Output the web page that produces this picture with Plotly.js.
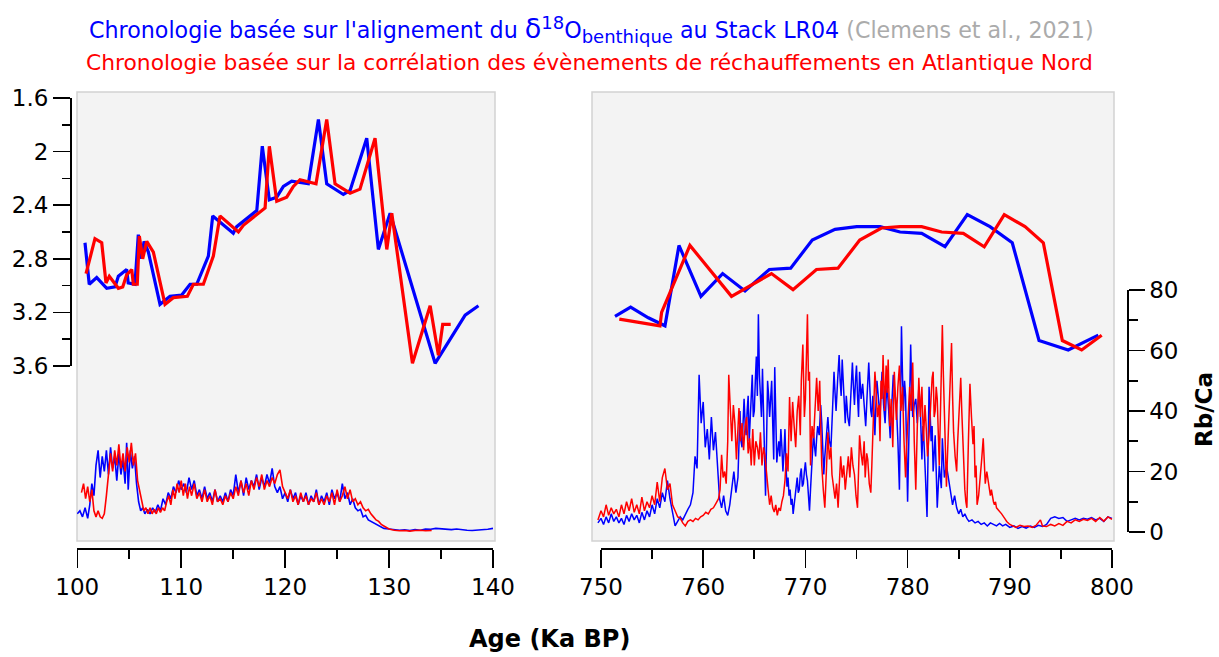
<!DOCTYPE html>
<html>
<head>
<meta charset="utf-8">
<script src="https://cdn.plot.ly/plotly-3.0.1.min.js"></script>
<style>html,body{margin:0;padding:0;background:#fff;}#chart{width:1219px;height:657px;}</style>
</head>
<body>
<div id="chart"></div>
<script>
// ---------- DATA ----------
// d18O benthique, MIS 5e window (Ka BP)
const d18O_blue_left_age = [100.74,101.15,101.87,102.83,103.63,103.95,104.75,104.9,105.55,105.87,106.2,106.42,106.84,107.96,108.92,110.05,110.85,111.49,112.61,113.03,115.01,115.34,117.27,117.8,118.48,119.19,119.83,120.63,122.23,123.2,124.0,125.6,126.25,127.85,128.97,130.1,134.43,137.32,138.6];
const d18O_blue_left_val = [2.68,2.99,2.94,3.02,3.01,2.93,2.88,2.98,2.99,2.62,2.80,2.67,2.75,3.14,3.08,3.07,2.99,2.99,2.78,2.48,2.61,2.56,2.44,1.96,2.36,2.34,2.26,2.22,2.24,1.76,2.24,2.32,2.29,1.90,2.73,2.46,3.58,3.22,3.15];
const d18O_red_left_age = [100.84,101.7,102.35,102.76,103.08,103.95,104.37,104.75,105.24,105.39,105.77,105.97,106.29,106.68,107.32,108.44,109.24,110.59,111.17,112.13,113.09,113.73,115.5,115.98,118.07,118.48,119.19,120.15,120.79,121.43,122.97,124.0,124.8,126.25,127.2,128.65,129.78,130.26,132.25,133.95,134.75,135.16,135.93];
const d18O_red_left_val = [2.91,2.65,2.68,2.98,2.93,3.02,3.01,2.92,2.88,2.99,2.99,2.63,2.80,2.67,2.75,3.14,3.09,3.08,2.99,2.99,2.78,2.48,2.60,2.55,2.42,1.96,2.37,2.34,2.26,2.21,2.24,1.76,2.24,2.31,2.28,1.90,2.73,2.46,3.58,3.15,3.52,3.29,3.29];

// d18O benthique, MIS 19 window
const d18O_blue_right_age = [751.37,752.9,754.63,755.77,756.26,757.63,759.78,761.9,764.09,766.47,768.56,770.67,772.9,775.02,777.3,779.26,781.38,783.66,785.84,788.06,790.24,792.86,795.72,798.66];
const d18O_blue_right_val = [3.23,3.16,3.24,3.28,3.30,2.70,3.08,2.91,3.04,2.88,2.87,2.66,2.58,2.56,2.56,2.60,2.61,2.71,2.47,2.56,2.68,3.41,3.48,3.37];
const d18O_red_right_age = [751.79,755.77,755.93,758.7,762.77,766.68,768.79,771.08,773.19,775.32,777.44,779.26,781.38,783.33,785.45,787.5,789.46,791.49,793.28,795.14,797.03,798.99];
const d18O_red_right_val = [3.25,3.30,3.20,2.70,3.08,2.91,3.03,2.88,2.87,2.66,2.57,2.56,2.56,2.60,2.61,2.71,2.47,2.56,2.68,3.41,3.48,3.37];

// Rb/Ca, MIS 5e window
const rbca_blue_left_age = [100.0,100.25,100.5,100.75,101.0,101.2,101.4,101.6,101.8,102.0,102.2,102.4,102.6,102.8,103.0,103.2,103.4,103.6,103.8,104.0,104.2,104.4,104.6,104.75,104.9,105.1,105.3,105.5,105.7,105.9,106.1,106.3,106.5,106.75,107.0,107.25,107.5,107.75,108.0,108.25,108.5,108.75,109.0,109.25,109.5,109.75,110.0,110.25,110.5,110.75,111.0,111.25,111.5,111.75,112.0,112.25,112.5,112.75,113.0,113.25,113.5,113.75,114.0,114.25,114.5,114.75,115.0,115.25,115.5,115.75,116.0,116.25,116.5,116.75,117.0,117.25,117.5,117.75,118.0,118.25,118.5,118.75,119.0,119.25,119.5,119.75,120.0,120.25,120.5,120.75,121.0,121.25,121.5,121.75,122.0,122.25,122.5,122.75,123.0,123.25,123.5,123.75,124.0,124.25,124.5,124.75,125.0,125.25,125.5,125.75,126.0,126.25,126.5,126.75,127.0,127.25,127.5,127.75,128.0,128.25,128.5,128.75,129.0,129.25,129.5,130.0,130.5,131.0,131.5,132.0,132.5,133.0,133.5,134.0,134.5,135.0,135.5,136.0,136.5,137.0,137.5,138.0,138.5,139.0,139.5,140.0];
const rbca_blue_left_val = [6,7,5,8,4.5,9,16,12,22,27,18,25,20,27,19,28,21,25,17,26,19,24,16,29.5,14,27,21,25,16,10,7,8,6,7.5,6,8,6.5,9,7,11,9,13,11,15,13,17,14,16,13,18,14,17,12,14,11,15,11,13,10,14,10,12,10,13,10,14,12,19,13,17,12,18,14,17,15,19,14,18,15,19,16,21,15,13,15,11,13,10,14,11,13,9,12,10,13,9,12,10,14,9,12,10,13,9,14,11,13,10,16,11,13,9,11,8,7,7.5,5,5.5,4,3.5,3,2.5,2,1.5,1.2,1,0.8,0.6,0.7,0.5,0.8,0.6,1.0,0.9,1.2,1.1,1.0,0.8,1.0,0.7,0.6,0.5,0.6,0.7,0.9,1.2];
const rbca_red_left_age = [100.4,100.6,100.8,101.0,101.2,101.4,101.6,101.8,102.0,102.2,102.4,102.6,102.8,103.0,103.2,103.4,103.6,103.8,104.0,104.2,104.4,104.6,104.8,105.0,105.2,105.4,105.6,105.8,106.0,106.2,106.4,106.6,106.8,107.0,107.2,107.4,107.6,107.8,108.0,108.2,108.4,108.6,108.8,109.0,109.2,109.4,109.6,109.8,110.0,110.2,110.4,110.6,110.8,111.0,111.25,111.5,111.75,112.0,112.25,112.5,112.75,113.0,113.25,113.5,113.75,114.0,114.25,114.5,114.75,115.0,115.25,115.5,115.75,116.0,116.25,116.5,116.75,117.0,117.25,117.5,117.75,118.0,118.25,118.5,118.75,119.0,119.25,119.5,119.75,120.0,120.25,120.5,120.75,121.0,121.25,121.5,121.75,122.0,122.25,122.5,122.75,123.0,123.25,123.5,123.75,124.0,124.25,124.5,124.75,125.0,125.25,125.5,125.75,126.0,126.25,126.5,126.75,127.0,127.25,127.5,127.75,128.0,128.25,128.5,128.75,129.0,129.25,129.5,129.75,130.0,130.5,131.0,131.5,132.0,132.5,133.0,133.5,134.1];
const rbca_red_left_val = [13,16,11,15,10,14,7,5,7,5,4.5,6,12,18,26,20,27,22,29,21,26,20,28,23,29.5,22,26,17,14,10,7,8,6,8,6,7.5,6,8,6.5,8,7,10,12,9,14,11,16,13,17,12,16,11,15,12,16,11,13,10,14,10,12,9,14,10,11,9,12,10,13,11,15,12,17,13,16,12,17,14,18,15,19,14,17,15,18,16,19,20.5,15,13,11,14,10,12,9,13,10,12,9,11,10,13,9,11,9,12,10,13,9,14,10,12,15,11,14,10,11,9,10,8,7,7.5,6,5,4,3.5,2.5,2,1.5,1,0.6,0.4,0.5,0.3,0.5,0.6,0.4,0.5];

// Rb/Ca, MIS 19 window — blue (three pieces: before, dense core [age, value], after)
const rbca_blue_right_pre_age = [749.7,750.0,750.25,750.5,750.75,751.0,751.25,751.5,751.75,752.0,752.25,752.5,752.75,753.0,753.25,753.5,753.75,754.0,754.25,754.5,754.75,755.0,755.25,755.5,755.75,756.0,756.25,756.5,756.75,757.0,757.25,757.5,757.75,758.0,758.25,758.5,758.75,759.0,759.2,759.4,759.6,759.8,760.0,760.2,760.4,760.6,760.8,761.0,761.2,761.4,761.6,761.8,762.0,762.2,762.4,762.6,762.8,763.0,763.2,763.4];
const rbca_blue_right_pre_val = [3,4.5,2.5,5,3,6,3.5,5,3,4.5,2.5,5.5,3.5,6,4,5.5,3,6.5,4,7,5,9,6,11,8,13,10,17,11,6,2,3.5,5,4,6,7.5,9,13,25,21,52,36,43,28,34,24,38,27,33,20,11,8,12,7,5.5,9,15,20,13,18];
const rbca_blue_right_core = [[763.6,40],[763.7,30],[763.8,28],[763.9,38],[764.0,44],[764.1,36],[764.2,32],[764.3,40],[764.4,45],[764.5,30],[764.6,36],[764.7,42],[764.8,52],[764.9,38],[765.0,40],[765.1,50],[765.2,58],[765.3,45],[765.4,72],[765.5,52],[765.6,45],[765.7,38],[765.8,54],[765.9,40],[766.0,28],[766.1,12],[766.2,30],[766.3,50],[766.4,45],[766.5,38],[766.6,44],[766.7,50],[766.8,36],[766.9,24],[767.0,54.5],[767.1,35],[767.2,23],[767.3,27],[767.4,30],[767.5,25],[767.6,34],[767.7,28],[767.8,20],[767.9,26],[768.0,34],[768.1,22],[768.2,15],[768.3,18],[768.4,12],[768.5,14],[768.6,9],[768.7,11],[768.8,6],[768.9,9],[769.0,12],[769.1,16],[769.2,18],[769.3,13],[769.4,14],[769.5,19],[769.6,21],[769.7,15],[769.8,16],[769.9,20],[770.0,23],[770.1,19],[770.2,17],[770.3,12],[770.4,7],[770.5,14],[770.6,20],[770.7,28],[770.8,33],[770.9,28],[771.0,25],[771.1,31],[771.2,35],[771.35,32],[771.5,42],[771.6,36],[771.7,28],[771.8,19],[771.9,25],[772.0,30],[772.1,34],[772.2,38],[772.35,30],[772.5,28],[772.65,40],[772.8,53],[772.9,46],[773.0,40],[773.15,50],[773.3,58.5],[773.4,50],[773.5,45],[773.6,57],[773.7,48],[773.8,40],[773.9,36],[774.0,45],[774.15,38],[774.3,35],[774.45,46],[774.6,56],[774.7,48],[774.8,42],[774.9,50],[775.0,55],[775.1,45],[775.2,38],[775.3,53],[775.45,44],[775.6,49],[775.75,40],[775.9,35],[776.05,46],[776.2,56],[776.3,48],[776.4,40],[776.5,38],[776.6,45],[776.7,40],[776.8,32],[776.9,42],[777.0,50],[777.15,44],[777.3,38],[777.4,46],[777.5,53],[777.65,42],[777.8,36],[777.9,44],[778.0,48],[778.15,40],[778.3,31],[778.45,42],[778.6,52],[778.75,46],[778.9,42],[779.05,30],[779.2,14],[779.3,40],[779.4,68],[779.5,52],[779.6,40],[779.7,50],[779.8,45],[779.9,28],[780.0,10],[780.15,35],[780.3,62],[780.4,48],[780.5,38],[780.65,42],[780.8,44],[780.95,36],[781.1,48],[781.25,40],[781.4,24],[781.5,35],[781.6,30],[781.75,18],[781.9,5],[782.0,25],[782.1,48],[782.2,40],[782.3,30],[782.4,35],[782.5,20],[782.6,26],[782.7,32],[782.8,20],[782.9,8]];
const rbca_blue_right_post_age = [783.1,783.3,783.4,783.6,783.8,784.1,784.4,784.6,784.8,785.0,785.2,785.4,785.6,785.8,786.0,786.3,786.6,786.9,787.2,787.5,787.8,788.1,788.4,788.7,789.0,789.3,789.6,790.0,790.4,790.8,791.2,791.6,792.0,792.4,792.8,793.2,793.6,794.0,794.4,794.8,795.2,795.6,796.0,796.4,796.8,797.2,797.6,798.0,798.4,798.8,799.2,799.6,800.0];
const rbca_blue_right_post_val = [22,14.5,31,18,22,15,9,12,8,6,7.5,5,6,4.5,3.5,4,3,3.5,2.5,3,2,3,2.5,2,2.8,2,2.5,1.5,2,1.2,1.8,1.3,2,1.5,2.2,1.8,2.5,4.5,5,4.5,4.8,3.5,4,4.5,4,4.5,4.2,4.8,4,4.5,3.5,5,4.5];

// Rb/Ca, MIS 19 window — red
const rbca_red_right_pre_age = [749.7,750.0,750.25,750.5,750.75,751.0,751.25,751.5,751.75,752.0,752.25,752.5,752.75,753.0,753.25,753.5,753.75,754.0,754.25,754.5,754.75,755.0,755.25,755.5,755.75,756.0,756.25,756.5,756.75,757.0,757.25,757.5,757.75,758.0,758.25,758.5,758.75,759.0,759.25,759.5,759.75,760.0,760.25,760.5,760.75,761.0,761.25];
const rbca_red_right_pre_val = [4,7,5,9,5.5,8,6,7.5,5,9,6,10,7,11,6.5,9,6,11.5,7,10,8,12,9,16.5,10,18,21,14,16,9,7,5,4.6,3,2,3.5,4,3.5,4.5,4,5,5.5,6.5,6,7.5,8,9.5];
const rbca_red_right_core = [[761.5,11],[761.65,14],[761.8,25.5],[761.95,18],[762.1,20],[762.25,16],[762.4,30],[762.5,52],[762.65,38],[762.8,30],[762.95,42],[763.1,36],[763.25,24],[763.4,33],[763.5,41],[763.65,30],[763.8,36],[763.95,27],[764.1,35],[764.25,38],[764.4,26],[764.55,31],[764.7,22],[764.85,34],[765.0,22],[765.15,30],[765.3,28],[765.45,24],[765.6,33],[765.75,22],[765.9,28],[766.05,25],[766.2,18],[766.35,14],[766.5,9],[766.65,12],[766.8,8],[766.95,6.6],[767.1,9],[767.25,5.5],[767.4,8],[767.55,7],[767.7,10],[767.85,12],[768.0,17],[768.15,26],[768.3,20],[768.45,44.6],[768.6,30],[768.75,43],[768.9,35],[769.05,28],[769.2,40],[769.35,45],[769.5,32],[769.6,50],[769.75,62],[769.9,38],[770.0,44],[770.1,55],[770.2,72],[770.3,50],[770.4,53],[770.5,22],[770.65,35],[770.8,31],[770.95,44],[771.1,51],[771.25,40],[771.4,50],[771.5,35],[771.6,22],[771.75,14],[771.9,8],[772.05,20],[772.2,33],[772.35,24],[772.5,28],[772.6,19],[772.75,14],[772.9,11],[773.05,16],[773.2,8],[773.35,18],[773.45,25],[773.6,18],[773.75,22],[773.9,14],[774.05,20],[774.2,25],[774.35,18],[774.5,28],[774.65,22],[774.8,19],[774.95,12],[775.1,8],[775.2,20],[775.3,32],[775.45,26],[775.6,22],[775.75,30],[775.85,18],[776.0,26],[776.1,24],[776.25,16],[776.4,13],[776.5,22],[776.6,35],[776.7,45],[776.8,53],[776.9,48],[777.05,38],[777.2,42],[777.3,30],[777.4,50],[777.5,44],[777.6,58.5],[777.75,40],[777.9,55],[778.0,46],[778.1,57],[778.25,35],[778.4,44],[778.55,28],[778.7,53],[778.8,45],[778.9,37],[779.05,48],[779.2,55],[779.35,40],[779.5,48],[779.65,30],[779.8,18],[779.9,28],[780.0,35],[780.1,42],[780.2,48],[780.35,40],[780.5,56],[780.65,30],[780.8,14],[780.95,35],[781.1,51],[781.25,38],[781.4,48],[781.55,30],[781.7,42],[781.8,36],[781.95,25],[782.1,32],[782.25,44],[782.4,51],[782.5,53],[782.6,38],[782.7,40],[782.8,48],[782.9,44],[783.0,30],[783.1,22],[783.25,45],[783.4,68.4],[783.5,52],[783.6,41],[783.7,28],[783.8,15],[783.9,25],[784.05,40],[784.2,51],[784.3,62.5],[784.4,45],[784.5,33],[784.65,25],[784.8,20],[784.9,30],[785.0,37],[785.1,45],[785.2,51],[785.3,40],[785.4,30],[785.5,22],[785.6,14],[785.7,10],[785.8,8],[785.95,30],[786.1,49],[786.25,38],[786.4,29],[786.5,35],[786.6,18],[786.7,22],[786.8,9],[786.95,12],[787.1,17],[787.25,24],[787.4,31],[787.5,22],[787.6,16],[787.75,20],[787.9,16],[788.0,13],[788.1,12],[788.2,14],[788.3,11],[788.4,10],[788.5,9],[788.6,10],[788.7,8],[788.85,7.5],[789.0,7],[789.2,6]];
const rbca_red_right_post_age = [789.5,789.7,790.0,790.3,790.6,791.0,791.4,791.8,792.2,792.6,793.0,793.2,793.6,794.0,794.4,794.8,795.2,795.6,796.0,796.4,796.8,797.2,797.6,798.0,798.4,798.8,799.2,799.6,800.0];
const rbca_red_right_post_val = [4.5,3.5,2.5,2,1.5,2.2,1.8,2,1.5,2.3,4,2,1.8,2.5,2,2.8,2.2,3.5,3,4,3.5,4.2,3.8,4.5,3.5,4.8,3.6,5,4.2];

// tick labels / texts
const title1 = "Chronologie basée sur l'alignement du <span style=\"font-size:27px\">δ</span><sup><span style=\"font-size:18px\">18</span></sup>O<sub><span style=\"font-size:18px\">benthique</span></sub> au Stack LR04<span style=\"color:#ababab\"> (Clemens et al., 2021)</span>";
const title2 = "Chronologie basée sur la corrélation des évènements de réchauffements en Atlantique Nord";
const xTitle = "<b>Age (Ka BP)</b>";
const yRightTitle = "<b>Rb/Ca</b>";

// assemble the right-window Rb/Ca series
const rbca_blue_right_age = rbca_blue_right_pre_age.concat(rbca_blue_right_core.map(p => p[0]), rbca_blue_right_post_age);
const rbca_blue_right_val = rbca_blue_right_pre_val.concat(rbca_blue_right_core.map(p => p[1]), rbca_blue_right_post_val);
const rbca_red_right_age = rbca_red_right_pre_age.concat(rbca_red_right_core.map(p => p[0]), rbca_red_right_post_age);
const rbca_red_right_val = rbca_red_right_pre_val.concat(rbca_red_right_core.map(p => p[1]), rbca_red_right_post_val);

// ---------- LAYOUT GEOMETRY (pixels of the 1219x657 canvas) ----------
const W = 1219, H = 657;
const fx = p => p / W, fy = p => 1 - p / H;
const BLUE = '#0000ff', RED = '#ff0000';
const FONT = 'DejaVu Sans, Open Sans, sans-serif';
const TFONT = 'DejaVu Sans, Open Sans, sans-serif';

// pixel <-> value calibration
const xL = {p0: 77.3, v0: 100, p1: 493, v1: 140};
const xR = {p0: 601, v0: 750, p1: 1112, v1: 800};
const yD = {p0: 98, v0: 1.6, p1: 366, v1: 3.6};
const yRb = {p0: 532, v0: 0, p1: 290, v1: 80};
const val = (c, p) => c.v0 + (p - c.p0) * (c.v1 - c.v0) / (c.p1 - c.p0);

const boxL = [77, 495], boxR = [592, 1114], boxY = [92, 541];

const traces = [
  {x: rbca_blue_left_age, y: rbca_blue_left_val, xaxis: 'x', yaxis: 'y', mode: 'lines', line: {color: BLUE, width: 1.6}, hoverinfo: 'skip'},
  {x: rbca_red_left_age, y: rbca_red_left_val, xaxis: 'x', yaxis: 'y', mode: 'lines', line: {color: RED, width: 1.6}, hoverinfo: 'skip'},
  {x: rbca_blue_right_age, y: rbca_blue_right_val, xaxis: 'x2', yaxis: 'y', mode: 'lines', line: {color: BLUE, width: 1.5}, hoverinfo: 'skip'},
  {x: rbca_red_right_age, y: rbca_red_right_val, xaxis: 'x2', yaxis: 'y', mode: 'lines', line: {color: RED, width: 1.5}, hoverinfo: 'skip'},
  {x: d18O_blue_left_age, y: d18O_blue_left_val, xaxis: 'x', yaxis: 'y2', mode: 'lines', line: {color: BLUE, width: 3.2}, hoverinfo: 'skip'},
  {x: d18O_red_left_age, y: d18O_red_left_val, xaxis: 'x', yaxis: 'y2', mode: 'lines', line: {color: RED, width: 3.2}, hoverinfo: 'skip'},
  {x: d18O_blue_right_age, y: d18O_blue_right_val, xaxis: 'x2', yaxis: 'y2', mode: 'lines', line: {color: BLUE, width: 3.2}, hoverinfo: 'skip'},
  {x: d18O_red_right_age, y: d18O_red_right_val, xaxis: 'x2', yaxis: 'y2', mode: 'lines', line: {color: RED, width: 3.2}, hoverinfo: 'skip'},
  // carriers for the display axes
  {x: [null], y: [null], xaxis: 'x3', yaxis: 'y3', mode: 'lines', hoverinfo: 'skip'},
  {x: [null], y: [null], xaxis: 'x4', yaxis: 'y4', mode: 'lines', hoverinfo: 'skip'}
];

const hidden = {visible: false, fixedrange: true};
const tickFont = {family: FONT, size: 23, color: '#000'};
const dispAxis = {
  showgrid: false, zeroline: false, showline: true, linecolor: '#000', linewidth: 1.6,
  ticks: 'outside', tickcolor: '#000', tickwidth: 1.6, tickfont: tickFont, fixedrange: true
};

const layout = {
  width: W, height: H,
  margin: {l: 0, r: 0, t: 0, b: 0, pad: 0},
  paper_bgcolor: '#ffffff', plot_bgcolor: 'rgba(0,0,0,0)',
  showlegend: false,
  font: {family: FONT, color: '#000'},
  xaxis: Object.assign({}, hidden, {domain: [fx(boxL[0]), fx(boxL[1])], range: [val(xL, boxL[0]), val(xL, boxL[1])], anchor: 'y'}),
  xaxis2: Object.assign({}, hidden, {domain: [fx(boxR[0]), fx(boxR[1])], range: [val(xR, boxR[0]), val(xR, boxR[1])], anchor: 'y'}),
  yaxis: Object.assign({}, hidden, {domain: [fy(boxY[1]), fy(boxY[0])], range: [val(yRb, boxY[1]), val(yRb, boxY[0])], anchor: 'x'}),
  yaxis2: Object.assign({}, hidden, {domain: [fy(boxY[1]), fy(boxY[0])], range: [val(yD, boxY[1]), val(yD, boxY[0])], overlaying: 'y', anchor: 'x'}),
  xaxis3: Object.assign({}, dispAxis, {domain: [fx(xL.p0), fx(xL.p1)], range: [100, 140], anchor: 'free', position: fy(548),
    tickmode: 'linear', tick0: 100, dtick: 10, ticklen: 18, minor: {dtick: 5, ticklen: 9, tickwidth: 1.6, tickcolor: '#000', ticks: 'outside'}}),
  xaxis4: Object.assign({}, dispAxis, {domain: [fx(xR.p0), fx(xR.p1)], range: [750, 800], anchor: 'free', position: fy(548),
    tickmode: 'linear', tick0: 750, dtick: 10, ticklen: 18, minor: {dtick: 5, ticklen: 9, tickwidth: 1.6, tickcolor: '#000', ticks: 'outside'}}),
  yaxis3: Object.assign({}, dispAxis, {domain: [fy(yD.p1), fy(yD.p0)], range: [3.6, 1.6], anchor: 'free', position: fx(70), side: 'left',
    tickmode: 'array', tickvals: [1.6, 2, 2.4, 2.8, 3.2, 3.6], ticktext: ['1.6', '2', '2.4', '2.8', '3.2', '3.6'], ticklen: 17,
    minor: {tickvals: [1.8, 2.2, 2.6, 3.0, 3.4], ticklen: 8, tickwidth: 1.6, tickcolor: '#000', ticks: 'outside'}}),
  yaxis4: Object.assign({}, dispAxis, {domain: [fy(yRb.p0), fy(yRb.p1)], range: [0, 80], anchor: 'free', position: fx(1127), side: 'right',
    tickmode: 'linear', tick0: 0, dtick: 20, ticklen: 16, minor: {dtick: 10, ticklen: 9, tickwidth: 1.6, tickcolor: '#000', ticks: 'outside'}}),
  shapes: [
    {type: 'rect', xref: 'paper', yref: 'paper', x0: fx(boxL[0]), x1: fx(boxL[1]), y0: fy(boxY[1]), y1: fy(boxY[0]), fillcolor: '#f3f3f3', line: {color: '#d2d2d2', width: 1.5}, layer: 'below'},
    {type: 'rect', xref: 'paper', yref: 'paper', x0: fx(boxR[0]), x1: fx(boxR[1]), y0: fy(boxY[1]), y1: fy(boxY[0]), fillcolor: '#f3f3f3', line: {color: '#d2d2d2', width: 1.5}, layer: 'below'}
  ],
  annotations: [
    {text: title1, xref: 'paper', yref: 'paper', x: fx(591), y: fy(29), xanchor: 'center', yanchor: 'middle', showarrow: false, font: {family: TFONT, size: 22.2, color: BLUE}},
    {text: title2, xref: 'paper', yref: 'paper', x: fx(589), y: fy(63), xanchor: 'center', yanchor: 'middle', showarrow: false, font: {family: TFONT, size: 21.8, color: RED}},
    {text: xTitle, xref: 'paper', yref: 'paper', x: fx(549), y: fy(639), xanchor: 'center', yanchor: 'middle', showarrow: false, font: {family: TFONT, size: 24, color: '#000'}},
    {text: yRightTitle, xref: 'paper', yref: 'paper', x: fx(1204), y: fy(410), xanchor: 'center', yanchor: 'middle', textangle: -90, showarrow: false, font: {family: TFONT, size: 23, color: '#000'}}
  ]
};

Plotly.newPlot('chart', traces, layout, {staticPlot: true, displayModeBar: false});
</script>
</body>
</html>
